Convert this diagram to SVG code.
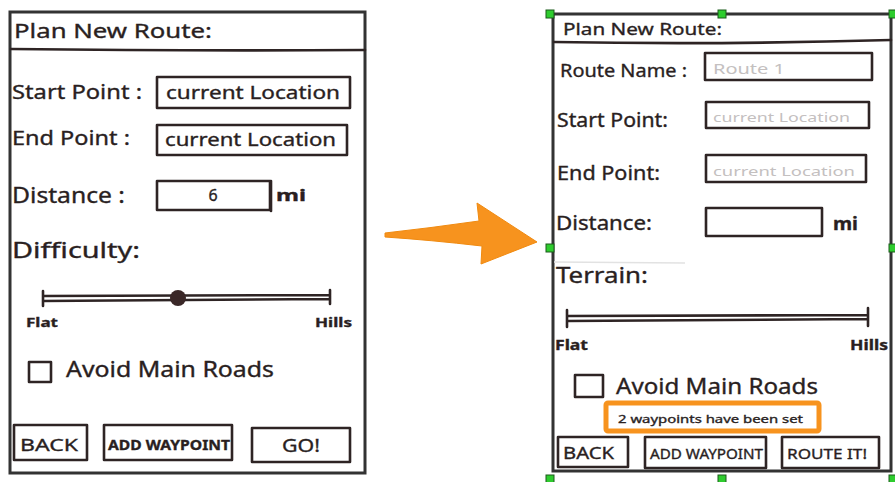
<svg xmlns="http://www.w3.org/2000/svg" width="895" height="482" viewBox="0 0 895 482">
<style>
.ink{fill:none;stroke:#2e2424;stroke-width:2.6;stroke-linejoin:round;stroke-linecap:round}
.frame{fill:#fff;stroke:#333;stroke-width:3}
.t{font-family:"Noto Sans","DejaVu Sans",sans-serif;fill:#2a1f1f;stroke:#2a1f1f;stroke-width:0.35}
.ph{font-family:"Noto Sans","DejaVu Sans",sans-serif;fill:#c4c0c0}
.b{font-weight:bold}
.h{fill:#2ecc2e;stroke:#1a5a1a;stroke-width:1}
</style>
<rect width="895" height="482" fill="#fff"/>

<g id="screen-before">
<rect class="frame" x="10" y="12" width="355" height="461"/>
<path class="ink" d="M11,49 Q180,51 365,50"/>
<text class="t" x="14" y="38" font-size="20" textLength="198" lengthAdjust="spacingAndGlyphs">Plan New Route:</text>
<text class="t" x="12" y="99" font-size="20" textLength="130" lengthAdjust="spacingAndGlyphs">Start Point :</text>
<rect class="ink" x="157" y="77" width="193" height="31"/>
<text class="t" x="166" y="99" font-size="18" textLength="174" lengthAdjust="spacingAndGlyphs">current Location</text>
<text class="t" x="12" y="145" font-size="20" textLength="118" lengthAdjust="spacingAndGlyphs">End Point :</text>
<rect class="ink" x="157" y="125" width="190" height="30"/>
<text class="t" x="165" y="146" font-size="18" textLength="171" lengthAdjust="spacingAndGlyphs">current Location</text>
<text class="t" x="12" y="203" font-size="21" textLength="113" lengthAdjust="spacingAndGlyphs">Distance :</text>
<rect class="ink" x="157" y="181" width="113" height="29"/>
<text class="t" x="213" y="201" font-size="16" text-anchor="middle">6</text>
<path class="ink" d="M271,181 L271,211"/>
<text class="t b" x="276" y="201" font-size="16" textLength="30" lengthAdjust="spacingAndGlyphs">mi</text>
<text class="t" x="12" y="258" font-size="21" textLength="128" lengthAdjust="spacingAndGlyphs">Difficulty:</text>
<path class="ink" d="M43,291 L43,306 M43,296 L330,295 M43,301 L330,299 M330,290 L330,304"/>
<circle cx="178" cy="298" r="8" fill="#3a2828"/>
<text class="t b" x="26" y="327" font-size="13" textLength="32" lengthAdjust="spacingAndGlyphs">Flat</text>
<text class="t b" x="315" y="327" font-size="13" textLength="37" lengthAdjust="spacingAndGlyphs">Hills</text>
<rect class="ink" x="29" y="362" width="22" height="20"/>
<text class="t" x="66" y="377" font-size="21" textLength="208" lengthAdjust="spacingAndGlyphs">Avoid Main Roads</text>
<rect class="ink" x="14" y="425" width="73" height="35"/>
<text class="t" x="20" y="451" font-size="17" textLength="58" lengthAdjust="spacingAndGlyphs">BACK</text>
<rect class="ink" x="104" y="425" width="128" height="35"/>
<text class="t b" x="108" y="450" font-size="14" textLength="122" lengthAdjust="spacingAndGlyphs">ADD WAYPOINT</text>
<rect class="ink" x="252" y="428" width="98" height="34"/>
<text class="t" x="282" y="452" font-size="18" textLength="38" lengthAdjust="spacingAndGlyphs">GO!</text>
</g>

<g id="screen-after">
<rect class="frame" x="553" y="14" width="338" height="457"/>
<path class="ink" d="M554,42 Q720,45 891,40"/>
<text class="t" x="563" y="35" font-size="17" textLength="159" lengthAdjust="spacingAndGlyphs">Plan New Route:</text>
<text class="t" x="560" y="77" font-size="18" textLength="127" lengthAdjust="spacingAndGlyphs">Route Name :</text>
<rect class="ink" x="705" y="53" width="167" height="27"/>
<text class="ph" x="713" y="74" font-size="14" textLength="72" lengthAdjust="spacingAndGlyphs">Route 1</text>
<text class="t" x="557" y="127" font-size="19" textLength="111" lengthAdjust="spacingAndGlyphs">Start Point:</text>
<rect class="ink" x="706" y="102" width="163" height="26"/>
<text class="ph" x="713" y="122" font-size="13" textLength="137" lengthAdjust="spacingAndGlyphs">current Location</text>
<text class="t" x="557" y="180" font-size="19" textLength="103" lengthAdjust="spacingAndGlyphs">End Point:</text>
<rect class="ink" x="706" y="155" width="160" height="27"/>
<text class="ph" x="713" y="176" font-size="13" textLength="142" lengthAdjust="spacingAndGlyphs">current Location</text>
<text class="t" x="556" y="230" font-size="19" textLength="96" lengthAdjust="spacingAndGlyphs">Distance:</text>
<rect class="ink" x="706" y="208" width="116" height="28"/>
<text class="t b" x="833" y="230" font-size="17" textLength="25" lengthAdjust="spacingAndGlyphs">mi</text>
<path d="M554,262 L685,263" stroke="#e2e2e2" stroke-width="1.5"/>
<text class="t" x="556" y="283" font-size="21" textLength="92" lengthAdjust="spacingAndGlyphs">Terrain:</text>
<path class="ink" d="M567,310 L567,327 M567,316 L868,315 M567,321 L868,319 M868,308 L868,326"/>
<text class="t b" x="555" y="350" font-size="14" textLength="33" lengthAdjust="spacingAndGlyphs">Flat</text>
<text class="t b" x="850" y="350" font-size="14" textLength="38" lengthAdjust="spacingAndGlyphs">Hills</text>
<rect class="ink" x="575" y="375" width="28" height="22"/>
<text class="t" x="616" y="394" font-size="22" textLength="202" lengthAdjust="spacingAndGlyphs">Avoid Main Roads</text>
<rect x="606" y="403" width="213" height="28" rx="2" fill="#fff" stroke="#f7931e" stroke-width="5"/>
<text class="t" x="618" y="423" font-size="11" textLength="185" lengthAdjust="spacingAndGlyphs">2 waypoints have been set</text>
<rect class="ink" x="558" y="437" width="70" height="30"/>
<text class="t" x="563" y="459" font-size="16" textLength="51" lengthAdjust="spacingAndGlyphs">BACK</text>
<rect class="ink" x="645" y="437" width="121" height="31"/>
<text class="t" x="650" y="459" font-size="14" textLength="113" lengthAdjust="spacingAndGlyphs">ADD WAYPOINT</text>
<rect class="ink" x="782" y="437" width="97" height="31"/>
<text class="t" x="787" y="459" font-size="15" textLength="80" lengthAdjust="spacingAndGlyphs">ROUTE IT!</text>
<g id="selection-handles">
<rect class="h" x="546" y="10" width="8" height="8"/>
<rect class="h" x="718" y="10" width="8" height="8"/>
<rect class="h" x="889" y="10" width="8" height="8"/>
<rect class="h" x="546" y="244" width="8" height="8"/>
<rect class="h" x="889" y="244" width="8" height="8"/>
<rect class="h" x="546" y="475" width="8" height="8"/>
<rect class="h" x="718" y="475" width="8" height="8"/>
<rect class="h" x="889" y="475" width="8" height="8"/>
</g>
</g>

<g id="connectors">
<path d="M385,233 Q430,228 479,221 L477,203 L537,242 L481,264 L482,246 Q430,240 385,237 Z" fill="#f7931e" stroke="#f08a10" stroke-width="1"/>
</g>
</svg>
